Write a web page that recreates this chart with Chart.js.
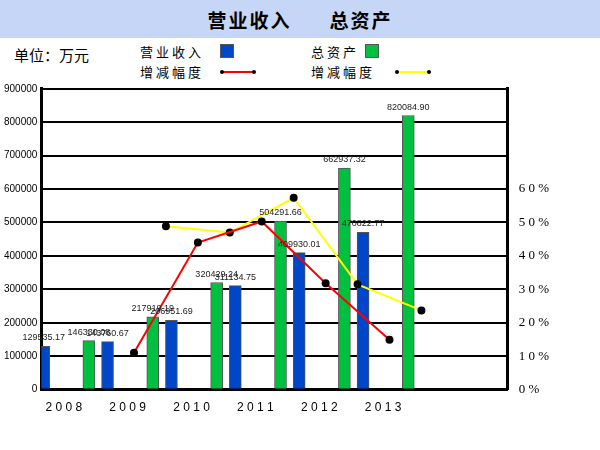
<!DOCTYPE html>
<html><head><meta charset="utf-8">
<script src="https://cdn.jsdelivr.net/npm/chart.js@4"></script>
<style>
body{margin:0;width:600px;height:450px;background:#fff;font-family:"Noto Sans CJK SC",sans-serif;position:relative;overflow:hidden}
#title{position:absolute;left:0;top:0;width:600px;height:38px;background:#c6d6f6;text-align:center;font-size:19px;font-weight:bold;line-height:40px;letter-spacing:2px}
.t{position:absolute;font-size:13px;letter-spacing:3px}
.sw{position:absolute;width:12px;height:12px;border:1px solid #555}
.ln{position:absolute;height:2px;width:32px}
.ln:before,.ln:after{content:'';position:absolute;top:-1px;width:4px;height:4px;border-radius:2px;background:#000}
.ln:before{left:-2px}.ln:after{right:-2px}
#wrap{position:absolute;left:0;top:78px;width:552px;height:340px}
</style></head><body>
<div id="title">营业收入&nbsp;&nbsp;&nbsp;&nbsp;&nbsp;&nbsp;总资产</div>
<div class="t" style="left:14px;top:44px;font-size:15px;letter-spacing:0">单位：万元</div>
<div class="t" style="left:140px;top:42px">营业收入</div><div class="sw" style="left:220px;top:44px;background:#0046c8"></div>
<div class="t" style="left:311px;top:42px">总资产</div><div class="sw" style="left:365px;top:44px;background:#00c040"></div>
<div class="t" style="left:140px;top:62px">增减幅度</div><div class="ln" style="left:222px;top:71px;background:#f00"></div>
<div class="t" style="left:311px;top:62px">增减幅度</div><div class="ln" style="left:397px;top:71px;background:#ff0"></div>
<div id="wrap"><canvas id="c"></canvas></div>
<script>
const years = ['2008','2009','2010','2011','2012','2013'];
const revenue = [129535.17,143760.67,206951.69,311134.75,409930.01,470822.77];
const assets = [146330.08,217919.19,320429.24,504291.66,662937.32,820084.90];
const revGrowth = [null,11.0,44.0,50.3,31.8,14.9];
const assetGrowth = [null,48.9,47.0,57.4,31.5,23.7];
const leftTicks = [0,100000,200000,300000,400000,500000,600000,700000,800000,900000];
const rightTicks = [0,10,20,30,40,50,60];

const pts = (arr, off) => arr.map((v,i)=>({x:i+off,y:v})).filter(p=>p.y!==null);
const valueLabels = {
  id:'valueLabels',
  afterDatasetsDraw(chart){
    const ctx = chart.ctx;
    ctx.save();ctx.font='9px Arial';ctx.fillStyle='#222';ctx.textAlign='center';
    [0,1].forEach(d=>{
      chart.getDatasetMeta(d).data.forEach((el,i)=>{
        const v = chart.data.datasets[d].data[i].y;
        ctx.fillText(v.toFixed(2), el.x, el.y-6);
      });
    });
    ctx.restore();
  }
};
new Chart(document.getElementById('c'),{
  data:{datasets:[
    {type:'bar',data:pts(revenue,-0.22),backgroundColor:'#0046c8',borderColor:'#555',borderWidth:1,barThickness:12,yAxisID:'y',order:2},
    {type:'bar',data:pts(assets,0.3),backgroundColor:'#00c040',borderColor:'#555',borderWidth:1,barThickness:12,yAxisID:'y',order:2},
    {type:'line',data:pts(revGrowth,0.1),borderColor:'#f00',borderWidth:2,pointRadius:3,pointBackgroundColor:'#000',pointBorderColor:'#000',yAxisID:'y2',order:1},
    {type:'line',data:pts(assetGrowth,0.6),borderColor:'#ff0',borderWidth:2,pointRadius:3,pointBackgroundColor:'#000',pointBorderColor:'#000',yAxisID:'y2',order:1}
  ]},
  options:{responsive:true,maintainAspectRatio:false,animation:false,
    layout:{padding:{top:10,right:0}},
    plugins:{legend:{display:false},tooltip:{enabled:false}},
    scales:{
      x:{type:'linear',min:-0.35,max:6.95,offset:false,
        afterBuildTicks:a=>{a.ticks=years.map((_,i)=>({value:i}));},
        ticks:{callback:v=>years[v]?years[v].split('').join(' '):'',color:'#000',font:{size:12,family:'Arial'},maxRotation:0},
        grid:{display:false},border:{color:'#000',width:3}},
      y:{min:0,max:900000,
        afterBuildTicks:a=>{a.ticks=leftTicks.map(v=>({value:v}));},
        ticks:{callback:v=>String(v),color:'#000',font:{size:10,family:'Arial'},padding:4},
        grid:{color:'#000',lineWidth:2,drawTicks:false},border:{color:'#000',width:3}},
      y2:{position:'right',min:0,max:90,
        afterBuildTicks:a=>{a.ticks=rightTicks.map(v=>({value:v}));},
        ticks:{callback:v=>String(v).split('').join(' ')+' %',color:'#000',font:{size:13,family:'Liberation Serif'}},
        grid:{display:false},border:{color:'#000',width:3}}
    }},
  plugins:[valueLabels]
});
</script>
</body></html>
